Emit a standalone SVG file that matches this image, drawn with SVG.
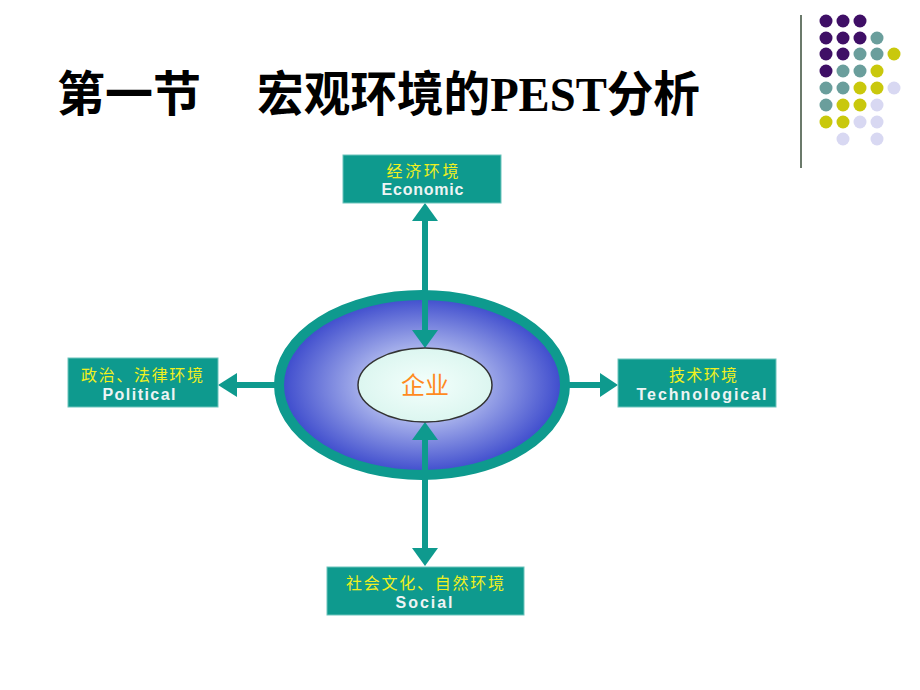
<svg xmlns="http://www.w3.org/2000/svg" width="920" height="690" viewBox="0 0 920 690">
<defs>
<radialGradient id="blueGrad" cx="50%" cy="50%" r="50%">
<stop offset="0" stop-color="#d4dcf6"/>
<stop offset="0.4" stop-color="#aab4ec"/>
<stop offset="1" stop-color="#3a48cc"/>
</radialGradient>
<radialGradient id="coreGrad" cx="50%" cy="50%" r="50%">
<stop offset="0" stop-color="#f4fffc"/>
<stop offset="1" stop-color="#dcf6f0"/>
</radialGradient>
</defs>
<style>
.box{fill:#0e9a8e;stroke:#6cc4bc;stroke-width:1}
.cn{font-family:"Noto Sans CJK SC",sans-serif;font-size:16px;fill:#f0f020;text-anchor:middle}
.en{font-family:"Liberation Sans",Arial,sans-serif;font-size:16px;font-weight:bold;fill:#eef4f4;text-anchor:middle}
.shaft{stroke:#0e9a8e;stroke-width:6;fill:none}
.head{fill:#0e9a8e}
.title{font-family:"Liberation Serif","Noto Sans CJK SC",serif;font-size:48px;font-weight:bold;fill:#000}
.p{fill:#3f0f66}.t{fill:#6a9e9c}.y{fill:#c9c80c}.l{fill:#d8d8f2}
</style>
<rect width="920" height="690" fill="#fff"/>
<g id="decoration">
<line x1="801" y1="15" x2="801" y2="168" stroke="#6b7a6b" stroke-width="2"/>
<g>
<circle class="p" cx="826" cy="21" r="6.5"/><circle class="p" cx="843" cy="21" r="6.5"/><circle class="p" cx="860" cy="21" r="6.5"/>
<circle class="p" cx="826" cy="38" r="6.5"/><circle class="p" cx="843" cy="38" r="6.5"/><circle class="p" cx="860" cy="38" r="6.5"/><circle class="t" cx="877" cy="38" r="6.5"/>
<circle class="p" cx="826" cy="54" r="6.5"/><circle class="p" cx="843" cy="54" r="6.5"/><circle class="t" cx="860" cy="54" r="6.5"/><circle class="t" cx="877" cy="54" r="6.5"/><circle class="y" cx="894" cy="54" r="6.5"/>
<circle class="p" cx="826" cy="71" r="6.5"/><circle class="t" cx="843" cy="71" r="6.5"/><circle class="t" cx="860" cy="71" r="6.5"/><circle class="y" cx="877" cy="71" r="6.5"/>
<circle class="t" cx="826" cy="88" r="6.5"/><circle class="t" cx="843" cy="88" r="6.5"/><circle class="y" cx="860" cy="88" r="6.5"/><circle class="y" cx="877" cy="88" r="6.5"/><circle class="l" cx="894" cy="88" r="6.5"/>
<circle class="t" cx="826" cy="105" r="6.5"/><circle class="y" cx="843" cy="105" r="6.5"/><circle class="y" cx="860" cy="105" r="6.5"/><circle class="l" cx="877" cy="105" r="6.5"/>
<circle class="y" cx="826" cy="122" r="6.5"/><circle class="y" cx="843" cy="122" r="6.5"/><circle class="l" cx="860" cy="122" r="6.5"/><circle class="l" cx="877" cy="122" r="6.5"/>
<circle class="l" cx="843" cy="139" r="6.5"/><circle class="l" cx="877" cy="139" r="6.5"/>
</g>
</g>
<g id="title">
<text class="title" x="57" y="111" textLength="144" lengthAdjust="spacingAndGlyphs">第一节</text>
<text class="title" x="257" y="111" textLength="443" lengthAdjust="spacingAndGlyphs">宏观环境的PEST分析</text>
</g>
<g id="environment">
<ellipse cx="422" cy="385" rx="143" ry="90" fill="url(#blueGrad)" stroke="#0e9a8e" stroke-width="10"/>
</g>
<g id="connectors">
<line class="shaft" x1="425" y1="220" x2="425" y2="332"/>
<polygon class="head" points="425,203 412,221 438,221"/>
<polygon class="head" points="425,348 412,330 438,330"/>
<line class="shaft" x1="425" y1="438" x2="425" y2="550"/>
<polygon class="head" points="425,422 412,440 438,440"/>
<polygon class="head" points="425,566 412,548 438,548"/>
<line class="shaft" x1="235" y1="385" x2="276" y2="385"/>
<polygon class="head" points="218,385 237,373 237,397"/>
<line class="shaft" x1="567" y1="385" x2="602" y2="385"/>
<polygon class="head" points="618,385 600,373 600,397"/>
</g>
<g id="enterprise">
<ellipse cx="425" cy="385" rx="67" ry="37" fill="url(#coreGrad)" stroke="#333" stroke-width="1.5"/>
<text x="425" y="394" font-family="Noto Sans CJK SC,sans-serif" font-size="24" fill="#ff8a1e" text-anchor="middle">企业</text>
</g>
<g id="economic">
<rect class="box" x="343" y="155" width="158" height="48"/>
<text class="cn" x="422.5" y="177" textLength="72">经济环境</text>
<text class="en" x="422.5" y="195" textLength="82">Economic</text>
</g>
<g id="political">
<rect class="box" x="68" y="358" width="150" height="49"/>
<text class="cn" x="142" y="381" textLength="122">政治、法律环境</text>
<text class="en" x="139" y="400" textLength="73">Political</text>
</g>
<g id="technological">
<rect class="box" x="618" y="359" width="158" height="48"/>
<text class="cn" x="703" y="381" textLength="68">技术环境</text>
<text class="en" x="701.5" y="400" textLength="130">Technological</text>
</g>
<g id="social">
<rect class="box" x="327" y="567" width="197" height="48"/>
<text class="cn" x="425" y="589" textLength="158">社会文化、自然环境</text>
<text class="en" x="424" y="608" textLength="57">Social</text>
</g>
</svg>
